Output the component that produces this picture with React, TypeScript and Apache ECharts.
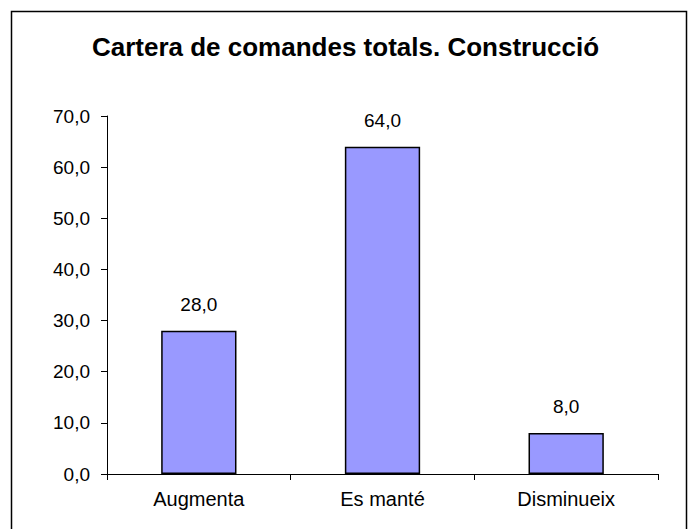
import React, { useEffect, useRef } from "react";
import * as echarts from "echarts";

const titleText = "Cartera de comandes totals. Construcció";
const categories = ["Augmenta", "Es manté", "Disminueix"];
const values = [28.0, 64.0, 8.0];
const yMin = 0;
const yMax = 70;
const yStep = 10;

const fmt = (v: number) => v.toFixed(1).replace(".", ",");

export default function App() {
  const ref = useRef<HTMLDivElement>(null);
  useEffect(() => {
    if (!ref.current) return;
    const chart = echarts.init(ref.current, null, { renderer: "svg" });
    const font = "Liberation Sans, Arial, sans-serif";
    chart.setOption({
      animation: false,
      backgroundColor: "#ffffff",
      title: {
        text: titleText,
        left: "center",
        top: 29,
        textStyle: { fontFamily: font, fontSize: 26, fontWeight: "bold", color: "#000" },
      },
      graphic: [
        {
          type: "rect",
          shape: { x: 11.5, y: 11.5, width: 675, height: 540 },
          style: { fill: "none", stroke: "#000", lineWidth: 1.5 },
          silent: true,
        },
      ],
      grid: { left: 107, right: 33, top: 116, bottom: 55 },
      xAxis: {
        type: "category",
        data: categories,
        axisLine: { lineStyle: { color: "#000", width: 1 } },
        axisTick: { show: true, alignWithLabel: false, length: 6, lineStyle: { color: "#000" } },
        axisLabel: { fontFamily: font, fontSize: 20, color: "#000", margin: 15 },
      },
      yAxis: {
        type: "value",
        min: yMin,
        max: yMax,
        interval: yStep,
        splitLine: { show: false },
        axisLine: { show: true, lineStyle: { color: "#000", width: 1 } },
        axisTick: { show: true, length: 6, lineStyle: { color: "#000" } },
        axisLabel: { fontFamily: font, fontSize: 19, color: "#000", margin: 17, formatter: (v: number) => fmt(v) },
      },
      series: [
        {
          type: "bar",
          data: values,
          barWidth: "41%",
          itemStyle: { color: "#9999FF", borderColor: "#000", borderWidth: 1.5 },
          label: {
            show: true,
            position: "top",
            distance: 17,
            fontFamily: font,
            fontSize: 19,
            color: "#000",
            formatter: (p: any) => fmt(p.value),
          },
        },
      ],
    });
    return () => chart.dispose();
  }, []);
  return (
    <div
      ref={ref}
      style={{ position: "absolute", left: 0, top: 0, width: 691, height: 529 }}
    />
  );
}
